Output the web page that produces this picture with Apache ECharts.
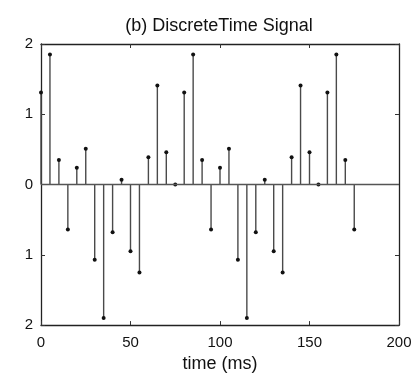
<!DOCTYPE html>
<html>
<head>
<meta charset="utf-8">
<script src="https://cdn.jsdelivr.net/npm/echarts@6/dist/echarts.min.js"></script>
<style>html,body{margin:0;padding:0;background:#fff;}#c{width:418px;height:378px;}</style>
</head>
<body>
<div id="c"></div>
<script>
const times = [0,5,10,15,20,25,30,35,40,45,50,55,60,65,70,75,80,85,90,95,100,105,110,115,120,125,130,135,140,145,150,155,160,165,170,175];
const values = [1.31,1.85,0.35,-0.64,0.24,0.51,-1.07,-1.90,-0.68,0.07,-0.95,-1.25,0.39,1.41,0.46,0.0,1.31,1.85,0.35,-0.64,0.24,0.51,-1.07,-1.90,-0.68,0.07,-0.95,-1.25,0.39,1.41,0.46,0.0,1.31,1.85,0.35,-0.64];
const xTicks = [0,50,100,150,200];
const yTicks = [-2,-1,0,1,2];
const titleText = '(b) DiscreteTime Signal';
const xLabel = 'time (ms)';

const data = times.map((t,i)=>[t, values[i]]);
const font = 'Liberation Sans, Arial, Helvetica, sans-serif';
const chart = echarts.init(document.getElementById('c'), null, {renderer:'canvas'});
const axisCommon = {
  type:'value',
  axisLine:{show:true, onZero:false, lineStyle:{color:'#222', width:1.3}},
  splitLine:{show:false},
  axisTick:{show:true, inside:true, length:4, lineStyle:{color:'#333', width:1}},
};
chart.setOption({
  animation:false,
  backgroundColor:'#fff',
  title:{text:titleText, left:214, top:12, textAlign:'center',
    textStyle:{fontFamily:font, fontSize:18, fontWeight:'normal', color:'#111'}},
  grid:{left:41, right:19, top:44, bottom:50, show:false},
  xAxis:[
    Object.assign({}, axisCommon, {min:xTicks[0], max:xTicks[xTicks.length-1], interval:50, position:'bottom',
      axisLabel:{fontFamily:font, fontSize:15, color:'#111', margin:10},
      name:xLabel, nameLocation:'middle', nameGap:29,
      nameTextStyle:{fontFamily:font, fontSize:18, color:'#111'}}),
    Object.assign({}, axisCommon, {min:xTicks[0], max:xTicks[xTicks.length-1], interval:50, position:'top', axisLabel:{show:false}})
  ],
  yAxis:[
    Object.assign({}, axisCommon, {min:yTicks[0], max:yTicks[yTicks.length-1], interval:1, position:'left',
      axisLabel:{fontFamily:font, fontSize:15, color:'#111', margin:8, formatter:v=>String(Math.abs(v))}}),
    Object.assign({}, axisCommon, {min:yTicks[0], max:yTicks[yTicks.length-1], interval:1, position:'right', axisLabel:{show:false}})
  ],
  series:[{
    type:'custom',
    data:data,
    encode:{x:0, y:1},
    clip:false,
    renderItem:function(params, api){
      const x = api.value(0), y = api.value(1);
      const p0 = api.coord([x,0]);
      const p1 = api.coord([x,y]);
      return {type:'group', children:[
        {type:'line', shape:{x1:p0[0], y1:p0[1], x2:p1[0], y2:p1[1]}, style:{stroke:'#4a4a4a', lineWidth:1.4}},
        {type:'circle', shape:{cx:p1[0], cy:p1[1], r:2}, style:{fill:'#111', stroke:null}}
      ]};
    },
    markLine:{silent:true, symbol:'none', label:{show:false},
      lineStyle:{color:'#555', width:1.3, type:'solid'},
      data:[{yAxis:0}]}
  }]
});
</script>
</body>
</html>
